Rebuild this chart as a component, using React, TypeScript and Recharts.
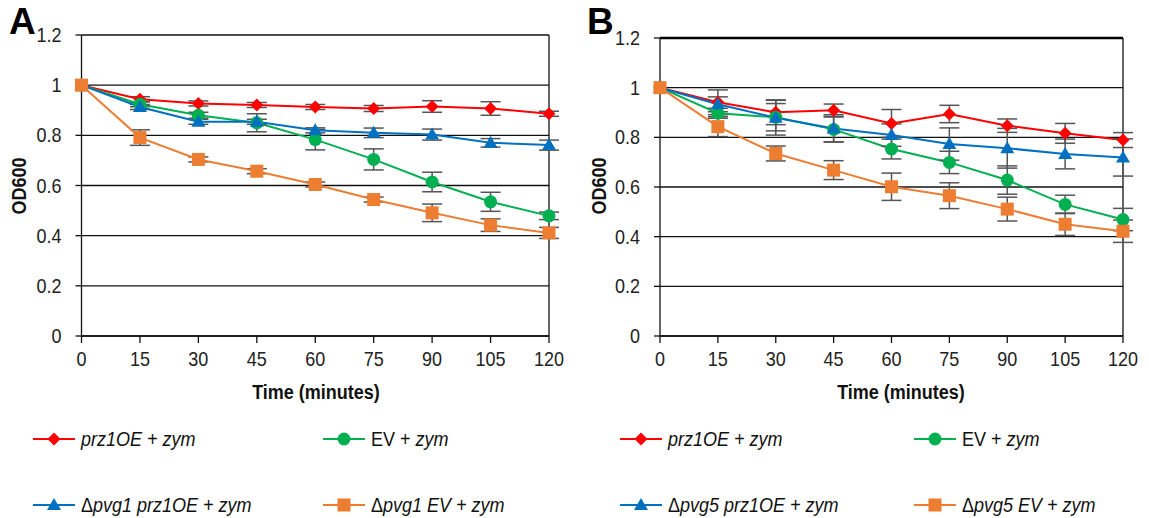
import React from "react";
import {
  LineChart,
  Line,
  XAxis,
  YAxis,
  CartesianGrid,
  ReferenceLine,
  ErrorBar,
} from "recharts";

const FONT = '"Liberation Sans", Arial, sans-serif';
const SQUEEZE = 0.9; // reference text is slightly narrower than Arial

const times = [0, 15, 30, 45, 60, 75, 90, 105, 120];
const xTicks = [0, 15, 30, 45, 60, 75, 90, 105, 120];
const yTicks = [0, 0.2, 0.4, 0.6, 0.8, 1, 1.2];

// panel A
const prz1A = [1, 0.944, 0.927, 0.921, 0.913, 0.907, 0.915, 0.907, 0.886];
const prz1AErr = [0, 0.01, 0.01, 0.01, 0.01, 0.012, 0.023, 0.027, 0.01];
const evA = [1, 0.924, 0.88, 0.85, 0.783, 0.704, 0.614, 0.535, 0.479];
const evAErr = [0, 0.01, 0.012, 0.036, 0.041, 0.042, 0.039, 0.038, 0.015];
const pvgPrzA = [1, 0.913, 0.854, 0.854, 0.82, 0.81, 0.803, 0.77, 0.761];
const pvgPrzAErr = [0, 0.01, 0.01, 0.01, 0.01, 0.019, 0.022, 0.017, 0.02];
const pvgEvA = [1, 0.791, 0.704, 0.657, 0.604, 0.544, 0.491, 0.442, 0.411];
const pvgEvAErr = [0, 0.031, 0.01, 0.01, 0.01, 0.01, 0.035, 0.025, 0.022];

// panel B
const prz1B = [1, 0.941, 0.901, 0.909, 0.856, 0.894, 0.847, 0.816, 0.789];
const prz1BErr = [0, 0.05, 0.05, 0.025, 0.056, 0.035, 0.027, 0.04, 0.03];
const evB = [1, 0.897, 0.881, 0.832, 0.753, 0.699, 0.628, 0.53, 0.469];
const evBErr = [0, 0.02, 0.055, 0.05, 0.04, 0.045, 0.057, 0.037, 0.045];
const pvgPrzB = [1, 0.933, 0.879, 0.836, 0.809, 0.773, 0.756, 0.733, 0.719];
const pvgPrzBErr = [0, 0.03, 0.07, 0.055, 0.045, 0.065, 0.08, 0.06, 0.075];
const pvgEvB = [1, 0.843, 0.735, 0.668, 0.601, 0.565, 0.511, 0.45, 0.422];
const pvgEvBErr = [0, 0.04, 0.03, 0.038, 0.055, 0.052, 0.048, 0.045, 0.045];

const RED = "#ff0000";
const GREEN = "#00b050";
const BLUE = "#0070c0";
const ORANGE = "#ed7d31";

type Shape = "diamond" | "circle" | "triangle" | "square";

function Marker({ cx, cy, shape, color }: { cx: number; cy: number; shape: Shape; color: string }) {
  if (cx == null || cy == null) return null;
  if (shape === "diamond")
    return <path d={`M${cx},${cy - 6.5}L${cx + 6.5},${cy}L${cx},${cy + 6.5}L${cx - 6.5},${cy}Z`} fill={color} />;
  if (shape === "circle") return <circle cx={cx} cy={cy} r={6.5} fill={color} />;
  if (shape === "triangle")
    return <path d={`M${cx},${cy - 7}L${cx + 7},${cy + 5}L${cx - 7},${cy + 5}Z`} fill={color} />;
  return <rect x={cx - 6.5} y={cy - 6.5} width={13} height={13} fill={color} />;
}

function XTick({ x, y, payload }: any) {
  return (
    <text
      transform={`translate(${x},${y}) scale(${SQUEEZE},1)`}
      dy="0.71em"
      textAnchor="middle"
      fill="#222"
      fontSize={20}
      fontFamily={FONT}
    >
      {payload.value}
    </text>
  );
}

function YTick({ x, y, payload }: any) {
  return (
    <text
      transform={`translate(${x},${y}) scale(${SQUEEZE},1)`}
      dy="0.355em"
      textAnchor="end"
      fill="#222"
      fontSize={20}
      fontFamily={FONT}
    >
      {payload.value}
    </text>
  );
}

function buildRows(a: number[], ae: number[], b: number[], be: number[], c: number[], ce: number[], d: number[], de: number[]) {
  return times.map((t, i) => ({
    t,
    prz1: a[i],
    prz1Err: ae[i],
    ev: b[i],
    evErr: be[i],
    pvgPrz: c[i],
    pvgPrzErr: ce[i],
    pvgEv: d[i],
    pvgEvErr: de[i],
  }));
}

const seriesDefs: { key: string; color: string; shape: Shape }[] = [
  { key: "prz1", color: RED, shape: "diamond" },
  { key: "ev", color: GREEN, shape: "circle" },
  { key: "pvgPrz", color: BLUE, shape: "triangle" },
  { key: "pvgEv", color: ORANGE, shape: "square" },
];

function Panel({ data, width, left, right, top, boldTop }: { data: any[]; width: number; left: number; right: number; top: number; boldTop?: boolean }) {
  return (
    <LineChart
      width={width}
      height={400}
      data={data}
      margin={{ top, right, bottom: 34, left }}
    >
      <CartesianGrid vertical={false} stroke="#111" strokeWidth={1.3} />
      <XAxis
        dataKey="t"
        type="number"
        domain={[0, 120]}
        ticks={xTicks}
        interval={0}
        height={30}
        tick={<XTick />}
        tickSize={7}
        tickMargin={9}
        axisLine={{ stroke: "#111", strokeWidth: 1.3 }}
        tickLine={{ stroke: "#111", strokeWidth: 1.3 }}
      />
      <YAxis
        type="number"
        domain={[0, 1.2]}
        ticks={yTicks}
        interval={0}
        width={60}
        tick={<YTick />}
        tickSize={6}
        tickMargin={14}
        axisLine={{ stroke: "#111", strokeWidth: 1.3 }}
        tickLine={{ stroke: "#111", strokeWidth: 1.3 }}
      />
      <ReferenceLine x={120} stroke="#111" strokeWidth={1.3} />
      {boldTop && <ReferenceLine y={1.2} stroke="#000" strokeWidth={2.5} />}
      {seriesDefs.map((s) => (
        <Line
          key={s.key}
          dataKey={s.key}
          stroke={s.color}
          strokeWidth={2}
          isAnimationActive={false}
          activeDot={false}
          dot={(p: any) => (
            <Marker key={`${s.key}-${p.index}`} cx={p.cx} cy={p.cy} shape={s.shape} color={s.color} />
          )}
        >
          <ErrorBar dataKey={`${s.key}Err`} direction="y" width={10} stroke="#555" strokeWidth={1.5} />
        </Line>
      ))}
    </LineChart>
  );
}

function LegendItem({ x, y, color, shape, children }: { x: number; y: number; color: string; shape: Shape; children: React.ReactNode }) {
  return (
    <div style={{ position: "absolute", left: x, top: y - 12, height: 24, display: "flex", alignItems: "center" }}>
      <svg width={42} height={16} style={{ marginRight: 6 }}>
        <line x1={0} y1={8} x2={42} y2={8} stroke={color} strokeWidth={2} />
        <Marker cx={21} cy={8} shape={shape} color={color} />
      </svg>
      <span
        style={{
          fontFamily: FONT,
          fontSize: 20,
          color: "#111",
          whiteSpace: "nowrap",
          display: "inline-block",
          transform: `scaleX(${SQUEEZE})`,
          transformOrigin: "left center",
        }}
      >
        {children}
      </span>
    </div>
  );
}

const abs = (left: number, top: number): React.CSSProperties => ({ position: "absolute", left, top });

export default function App() {
  const rowsA = buildRows(prz1A, prz1AErr, evA, evAErr, pvgPrzA, pvgPrzAErr, pvgEvA, pvgEvAErr);
  const rowsB = buildRows(prz1B, prz1BErr, evB, evBErr, pvgPrzB, pvgPrzBErr, pvgEvB, pvgEvBErr);
  const titleStyle: React.CSSProperties = { fontFamily: FONT, fontSize: 20, fontWeight: "bold", color: "#111", whiteSpace: "nowrap", lineHeight: "20px" };
  const letterStyle: React.CSSProperties = {
    fontFamily: FONT,
    fontSize: 37,
    fontWeight: "bold",
    color: "#000",
    lineHeight: "37px",
  };
  return (
    <div style={{ position: "absolute", left: 0, top: 0, width: 1149, height: 518, background: "#fff", overflow: "hidden" }}>
      <div style={abs(0, 0)}>
        <Panel data={rowsA} width={580} left={21.5} right={31} top={35} />
      </div>
      <div style={abs(580, 0)}>
        <Panel data={rowsB} width={569} left={20} right={26} top={38} boldTop />
      </div>

      <div style={{ ...abs(9, 3), ...letterStyle }}>A</div>
      <div style={{ ...abs(587, 3), ...letterStyle }}>B</div>

      <div style={{ ...abs(316, 392), ...titleStyle, transform: `translate(-50%, -50%) scale(${SQUEEZE},1)` }}>Time (minutes)</div>
      <div style={{ ...abs(901, 392), ...titleStyle, transform: `translate(-50%, -50%) scale(${SQUEEZE},1)` }}>Time (minutes)</div>
      <div style={{ ...abs(19, 186), ...titleStyle, transform: `translate(-50%, -50%) rotate(-90deg) scale(${SQUEEZE},1)` }}>OD600</div>
      <div style={{ ...abs(599, 186), ...titleStyle, transform: `translate(-50%, -50%) rotate(-90deg) scale(${SQUEEZE},1)` }}>OD600</div>

      <LegendItem x={33} y={439} color={RED} shape="diamond"><i>prz1OE + zym</i></LegendItem>
      <LegendItem x={323} y={439} color={GREEN} shape="circle">EV + <i>zym</i></LegendItem>
      <LegendItem x={33} y={505} color={BLUE} shape="triangle">Δ<i>pvg1 prz1OE + zym</i></LegendItem>
      <LegendItem x={323} y={505} color={ORANGE} shape="square">Δ<i>pvg1 EV + zym</i></LegendItem>

      <LegendItem x={620} y={439} color={RED} shape="diamond"><i>prz1OE + zym</i></LegendItem>
      <LegendItem x={914} y={439} color={GREEN} shape="circle">EV + <i>zym</i></LegendItem>
      <LegendItem x={620} y={505} color={BLUE} shape="triangle">Δ<i>pvg5 prz1OE + zym</i></LegendItem>
      <LegendItem x={914} y={505} color={ORANGE} shape="square">Δ<i>pvg5 EV + zym</i></LegendItem>
    </div>
  );
}
